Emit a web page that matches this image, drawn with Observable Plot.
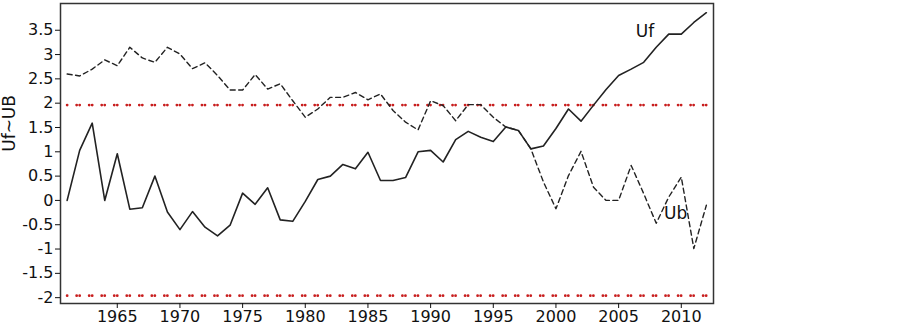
<!DOCTYPE html>
<html>
<head>
<meta charset="utf-8">
<script src="https://cdn.jsdelivr.net/npm/d3@7"></script>
<script src="https://cdn.jsdelivr.net/npm/@observablehq/plot@0.6"></script>
<style>
  html, body { margin: 0; padding: 0; background: #fff; }
  #chart { width: 903px; height: 330px; }
</style>
</head>
<body>
<div id="chart"></div>
<script>
const years = d3.range(1961, 2013);
const uf = [0, 1.03, 1.59, 0, 0.96, -0.18, -0.15, 0.5, -0.24, -0.6,
  -0.23, -0.55, -0.73, -0.51, 0.15, -0.08, 0.26, -0.4, -0.43, -0.02,
  0.43, 0.5, 0.74, 0.65, 0.99, 0.41, 0.41, 0.47, 1.0, 1.03,
  0.79, 1.25, 1.42, 1.3, 1.21, 1.51, 1.44, 1.06, 1.12, 1.48,
  1.88, 1.63, 1.96, 2.28, 2.57, 2.7, 2.84, 3.15, 3.42, 3.42,
  3.66, 3.86];
const ub = [2.6, 2.56, 2.7, 2.89, 2.77, 3.15, 2.93, 2.84, 3.15, 3.01,
  2.71, 2.83, 2.57, 2.27, 2.27, 2.59, 2.29, 2.4, 2.05, 1.71,
  1.88, 2.12, 2.12, 2.22, 2.07, 2.19, 1.85, 1.61, 1.45, 2.05,
  1.95, 1.64, 1.97, 1.97, 1.71, 1.51, 1.44, 1.06, 0.38, -0.17,
  0.51, 1.01, 0.27, 0, 0, 0.72, 0.14, -0.47, 0.07, 0.48,
  -0.99, -0.1];
const critical = [1.96, -1.96];
const yTicks = [-2, -1.5, -1, -0.5, 0, 0.5, 1, 1.5, 2, 2.5, 3, 3.5];
const xTicks = [1965, 1970, 1975, 1980, 1985, 1990, 1995, 2000, 2005, 2010];
const seriesLabels = [
  {text: "Uf", year: 2007.1, value: 3.47},
  {text: "Ub", year: 2009.55, value: -0.27}
];

const ufData = years.map((y, i) => ({year: y, v: uf[i]}));
const ubData = years.map((y, i) => ({year: y, v: ub[i]}));
const critData = critical.flatMap(c => [
  {c, year: years[0], v: c},
  {c, year: years[years.length - 1], v: c}
]);

const plot = Plot.plot({
  width: 903,
  height: 330,
  marginLeft: 60,
  marginRight: 190,
  marginTop: 3,
  marginBottom: 27,
  style: {fontFamily: "DejaVu Sans", fontSize: "16px", color: "#111", background: "#fff"},
  x: {domain: [1960.47, 2012.57], ticks: xTicks, tickFormat: d => String(d), tickSize: 5, label: null},
  y: {domain: [-2.12, 4.05], ticks: yTicks, tickFormat: d => String(d), tickSize: 5, label: null},
  marks: [
    Plot.line(critData, {x: "year", y: "v", z: "c", stroke: "#c81e1e", strokeWidth: 2.8,
      strokeLinecap: "round", strokeDasharray: "0 9.5 0 3.03"}),
    Plot.line(ubData, {x: "year", y: "v", stroke: "#222", strokeWidth: 1.4, strokeDasharray: "5 3.5"}),
    Plot.line(ufData, {x: "year", y: "v", stroke: "#222", strokeWidth: 1.6}),
    Plot.text(seriesLabels, {x: "year", y: "value", text: "text", fontSize: 17, fill: "#111"}),
    Plot.frame({stroke: "#333", strokeWidth: 1.5}),
    Plot.axisX({ticks: xTicks, tickFormat: d => String(d), tickSize: 5, tickPadding: 2, fontSize: 16, label: null}),
    Plot.axisY({ticks: yTicks, tickFormat: d => String(d), tickSize: 5, tickPadding: 2, fontSize: 16, label: null}),
    Plot.text(["Uf~UB"], {frameAnchor: "left", dx: -51, rotate: -90, fontSize: 17, fill: "#111", y: 1.0})
  ]
});
document.getElementById("chart").appendChild(plot);
</script>
</body>
</html>
